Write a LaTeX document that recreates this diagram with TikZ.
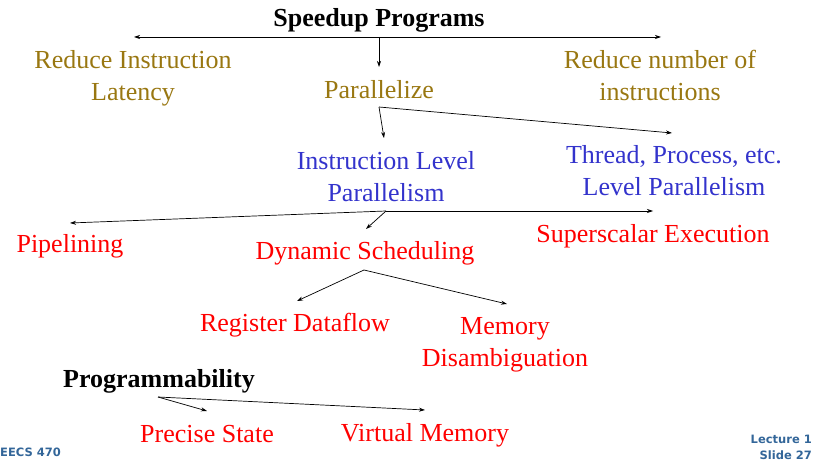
\documentclass[tikz,border=0pt]{standalone}
\usepackage{fontspec}
\setmainfont{Liberation Serif}
\newfontfamily\footfont{DejaVu Sans}
\usetikzlibrary{arrows.meta}
\definecolor{gold}{RGB}{153,119,17}
\definecolor{ilpblue}{RGB}{51,51,204}
\definecolor{hotred}{RGB}{255,0,0}
\definecolor{footblue}{RGB}{51,102,153}
\begin{document}
\begin{tikzpicture}[x=1pt,y=-1pt,
  lbl/.style={inner sep=0pt,align=center,font=\fontsize{26}{32}\selectfont},
  head/.style={lbl,font=\fontsize{26}{32}\selectfont\bfseries,text=black},
  goldtxt/.style={lbl,text=gold},
  bluetxt/.style={lbl,text=ilpblue},
  redtxt/.style={lbl,text=hotred},
  foot/.style={inner sep=0pt,text=footblue,font=\footfont\bfseries\fontsize{11.5}{16}\selectfont},
  arr/.style={-{Stealth[length=6pt,width=4pt]},line width=0.7pt}]
\useasboundingbox (0,0) rectangle (821,462);
% nodes
\node[head] (sp) at (379,20) {Speedup Programs};
\node[goldtxt] (rit) at (133,78) {Reduce Instruction\\Latency};
\node[goldtxt] (par) at (379,90) {Parallelize};
\node[goldtxt] (rno) at (660,75) {Reduce number of\\instructions};
\node[bluetxt] (ilp) at (386,177) {Instruction Level\\Parallelism};
\node[bluetxt] (tpl) at (674,171) {Thread, Process, etc.\\Level Parallelism};
\node[redtxt] (pip) at (70,246) {Pipelining};
\node[redtxt] (dyn) at (365,253) {Dynamic Scheduling};
\node[redtxt] (sup) at (653,236) {Superscalar Execution};
\node[redtxt] (reg) at (295,325) {Register Dataflow};
\node[redtxt] (mem) at (505,345) {Memory\\Disambiguation};
\node[head] (prog) at (159,381) {Programmability};
\node[redtxt] (pre) at (207,434) {Precise State};
\node[redtxt] (vir) at (425,435) {Virtual Memory};
\node[foot,anchor=west] (eecs) at (0,452) {EECS 470};
\node[foot,anchor=east,align=right] (lect) at (812,447) {Lecture 1\\Slide 27};
% junctions and tips
\coordinate (j1) at (379,37);
\coordinate (t1l) at (134,37);
\coordinate (t1r) at (661,37);
\coordinate (t1d) at (379,67);
\coordinate (j2) at (379,107);
\coordinate (t2l) at (384,138);
\coordinate (t2r) at (672,133);
\coordinate (j3) at (386,211);
\coordinate (t3l) at (70,223);
\coordinate (t3r) at (653,211);
\coordinate (t3d) at (366,229);
\coordinate (j4) at (364,270);
\coordinate (t4l) at (297,301);
\coordinate (t4r) at (507,304);
\coordinate (j5) at (158,397);
\coordinate (t5l) at (207,411);
\coordinate (t5r) at (425,410);
% connectors
\draw[arr] (j1) -- (t1l);
\draw[arr] (j1) -- (t1r);
\draw[arr] (j1) -- (t1d);
\draw[arr] (j2) -- (t2l);
\draw[arr] (j2) -- (t2r);
\draw[arr] (j3) -- (t3l);
\draw[arr] (j3) -- (t3r);
\draw[arr] (j3) -- (t3d);
\draw[arr] (j4) -- (t4l);
\draw[arr] (j4) -- (t4r);
\draw[arr] (j5) -- (t5l);
\draw[arr] (j5) -- (t5r);
\end{tikzpicture}
\end{document}
